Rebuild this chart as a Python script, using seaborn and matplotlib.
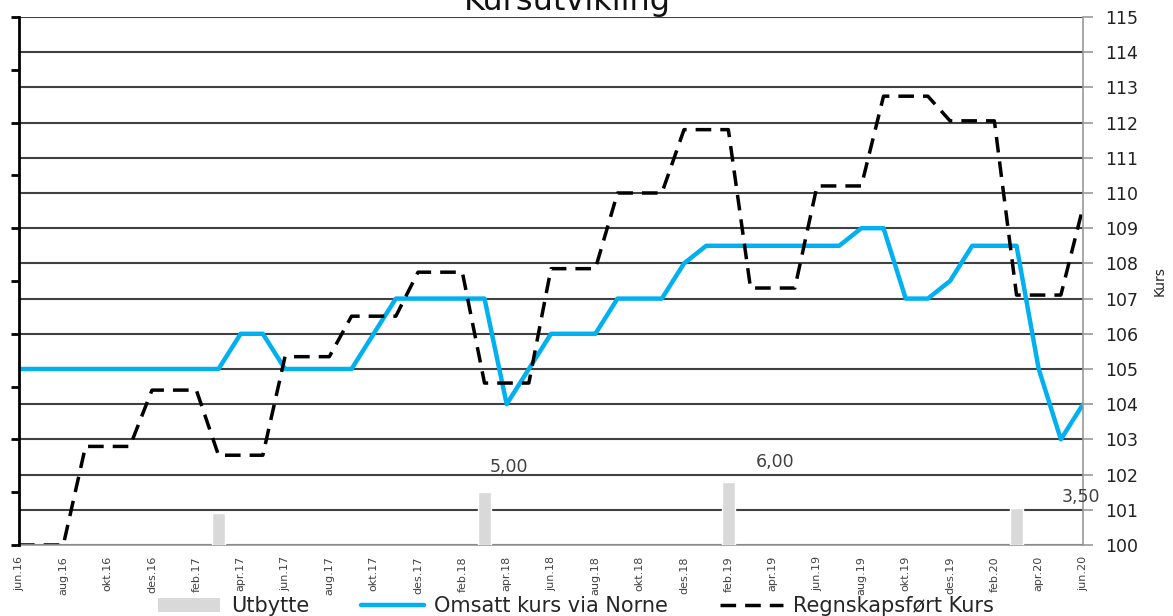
import numpy as np
import matplotlib.pyplot as plt
import seaborn as sns
from matplotlib.patches import Patch
from matplotlib.lines import Line2D


# DATA

tick_labels = [
    "jun.16", "aug.16", "okt.16", "des.16",
    "feb.17", "apr.17", "jun.17", "aug.17", "okt.17", "des.17",
    "feb.18", "apr.18", "jun.18", "aug.18", "okt.18", "des.18",
    "feb.19", "apr.19", "jun.19", "aug.19", "okt.19", "des.19",
    "feb.20", "apr.20", "jun.20",
]

# monthly values jun.16 - jun.20
omsatt = [
    105, 105, 105, 105, 105, 105, 105, 105, 105, 105,
    106, 106,
    105, 105, 105, 105,
    106,
    107, 107, 107, 107, 107,
    104, 105,
    106, 106, 106,
    107, 107, 107,
    108,
    108.5, 108.5, 108.5, 108.5, 108.5, 108.5, 108.5,
    109, 109,
    107, 107,
    107.5,
    108.5, 108.5, 108.5,
    105, 103, 104,
]

regnskap = [
    100, 100, 100,
    102.8, 102.8, 102.8,
    104.4, 104.4, 104.4,
    102.55, 102.55, 102.55,
    105.35, 105.35, 105.35,
    106.5, 106.5, 106.5,
    107.75, 107.75, 107.75,
    104.6, 104.6, 104.6,
    107.85, 107.85, 107.85,
    110.0, 110.0, 110.0,
    111.8, 111.8, 111.8,
    107.3, 107.3, 107.3,
    110.2, 110.2, 110.2,
    112.75, 112.75, 112.75,
    112.05, 112.05, 112.05,
    107.1, 107.1, 107.1,
    109.6,
]

utbytte_mnd = [9, 21, 32, 45]
utbytte = [3.0, 5.0, 6.0, 3.5]
utbytte_tekst = ["", "5,00", "6,00", "3,50"]

# label offsets (months, dividend units) as placed in the original
etikett_dx = [0, 1.1, 2.1, 2.9]
etikett_dy = [0, 2.4, 1.9, 1.05]

mnd = np.arange(len(omsatt))

BLUE = "#00B0F0"
GREY_BAR = "#D9D9D9"


# PLOT

sns.set_style("white")
plt.rcParams["font.family"] = ["DejaVu Sans"]

fig = plt.figure(figsize=(11.73, 6.16), dpi=100)
ax = fig.add_axes([0.0162, 0.1153, 0.9071, 0.8571])

# dividend axis (left side) - twin created first, then fix sides
ax_b = ax.twinx()

# kurs axis (right side) with grid
ax.set_xlim(0, len(omsatt) - 1)
ax.set_ylim(100, 115)
ax.set_yticks(range(100, 116))
ax.yaxis.tick_right()
ax.yaxis.set_label_position("right")
ax.yaxis.grid(True, color="#404040", linewidth=1.5)
ax.set_axisbelow(True)

sns.lineplot(x=mnd, y=omsatt, ax=ax, color=BLUE, linewidth=3.2, legend=False)
sns.lineplot(x=mnd, y=regnskap, ax=ax, color="black", linewidth=2.5,
             linestyle=(0, (4.5, 2.6)), legend=False)

ax.set_xticks(mnd[::2])
ax.set_xticklabels(tick_labels, rotation=90, fontsize=8, color="#404040",
                   family=["Liberation Sans Narrow", "DejaVu Sans"])
ax.tick_params(axis="x", direction="out", length=5, width=1.2,
               color="#999999", pad=3)
ax.tick_params(axis="y", direction="out", length=7, width=1.2,
               color="#999999", pad=9, labelsize=12.5, labelcolor="#222222",
               left=False, labelleft=False, right=True, labelright=True)
ax.set_xlabel("")
ax.set_ylabel("Kurs", fontsize=10, labelpad=10,
              family=["Liberation Sans Narrow", "DejaVu Sans"])

for side in ["top", "left"]:
    ax.spines[side].set_visible(False)
for side in ["right", "bottom"]:
    ax.spines[side].set_color("#999999")
    ax.spines[side].set_linewidth(1.2)

ax_b.set_ylim(0, 50)
ax_b.set_yticks(np.arange(0, 51, 5))
ax_b.tick_params(axis="y", direction="out", length=6, width=2,
                 color="black", left=True, labelleft=False,
                 right=False, labelright=False)
ax_b.bar(utbytte_mnd, utbytte, width=0.58, color=GREY_BAR)

for m, v, t, dx, dy in zip(utbytte_mnd, utbytte, utbytte_tekst,
                           etikett_dx, etikett_dy):
    if t:
        ax_b.text(m + dx, v + dy, t, ha="center", va="center",
                  fontsize=12.5, color="#404040")

for side in ["top", "right", "bottom"]:
    ax_b.spines[side].set_visible(False)
ax_b.spines["left"].set_color("black")
ax_b.spines["left"].set_linewidth(2)

# title (cut off at the top as in the original)
fig.text(0.484, 0.984, "Kursutvikling", ha="center", va="baseline",
         fontsize=23, color="#111111")

# legend
handles = [
    Patch(facecolor=GREY_BAR, edgecolor="none"),
    Line2D([], [], color=BLUE, linewidth=3.2),
    Line2D([], [], color="black", linewidth=2.5, linestyle=(0, (4.5, 2.6))),
]
labels = ["Utbytte", "Omsatt kurs via Norne", "Regnskapsført Kurs"]
fig.legend(handles, labels, loc="center", bbox_to_anchor=(0.491, 0.016),
           ncol=3, frameon=False, fontsize=15, handlelength=3,
           columnspacing=2.5, handletextpad=0.5)

fig.savefig("out.png", dpi=100)
